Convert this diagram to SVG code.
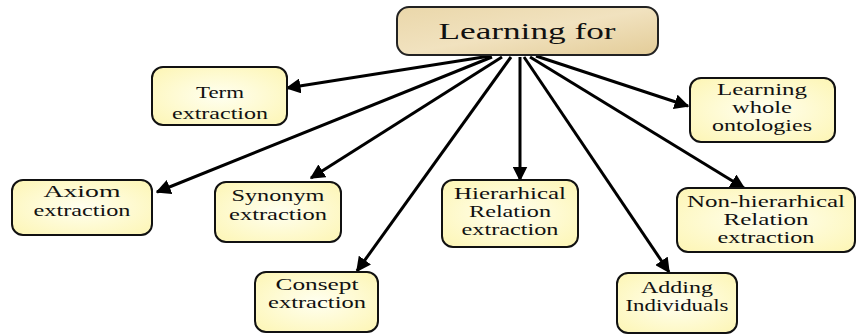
<svg xmlns="http://www.w3.org/2000/svg" width="858" height="336" viewBox="0 0 858 336">
<defs>
<radialGradient id="yel" cx="50%" cy="50%" r="65%">
<stop offset="0" stop-color="#fffff0"/>
<stop offset="1" stop-color="#fdf6b8"/>
</radialGradient>
<linearGradient id="tan" x1="0" y1="0" x2="1" y2="1">
<stop offset="0" stop-color="#ead7aa"/>
<stop offset="0.5" stop-color="#f1e2bf"/>
<stop offset="1" stop-color="#e3cc98"/>
</linearGradient>
<marker id="ah" viewBox="0 0 10 10" refX="9" refY="5" markerWidth="5" markerHeight="5" orient="auto" markerUnits="strokeWidth">
<path d="M0,0 L10,5 L0,10 z" fill="#000"/>
</marker>
<style>
.box{fill:url(#yel);stroke:#111;stroke-width:2}
.root{fill:url(#tan);stroke:#222;stroke-width:2}
text{font-family:"Liberation Serif","Times New Roman",serif;fill:#111;text-anchor:middle;font-size:17px}
.rt{font-size:24px}
.c line{stroke:#000;stroke-width:3;marker-end:url(#ah)}
</style>
</defs>
<g class="c" id="connectors">
<line x1="490" y1="56" x2="287" y2="88"/>
<line x1="492" y1="57" x2="157" y2="192"/>
<line x1="502" y1="57" x2="311" y2="178"/>
<line x1="511" y1="57" x2="357" y2="271"/>
<line x1="520" y1="57" x2="520" y2="180"/>
<line x1="524" y1="57" x2="669" y2="272"/>
<line x1="530" y1="57" x2="744" y2="188"/>
<line x1="536" y1="56" x2="688" y2="106"/>
</g>
<g id="root">
<rect class="root" x="397" y="7" width="261" height="48" rx="12"/>
<text class="rt" x="527" y="39" textLength="177" lengthAdjust="spacingAndGlyphs">Learning for</text>
</g>
<g id="term">
<rect class="box" x="152" y="67" width="135" height="58" rx="11"/>
<text x="220" y="98" textLength="48" lengthAdjust="spacingAndGlyphs">Term</text>
<text x="220" y="119" textLength="96" lengthAdjust="spacingAndGlyphs">extraction</text>
</g>
<g id="axiom">
<rect class="box" x="12" y="180" width="140" height="55" rx="11"/>
<text x="82" y="197" textLength="77" lengthAdjust="spacingAndGlyphs">Axiom</text>
<text x="82" y="216" textLength="97" lengthAdjust="spacingAndGlyphs">extraction</text>
</g>
<g id="synonym">
<rect class="box" x="215" y="182" width="126" height="60" rx="11"/>
<text x="278" y="201" textLength="93" lengthAdjust="spacingAndGlyphs">Synonym</text>
<text x="278" y="220" textLength="98" lengthAdjust="spacingAndGlyphs">extraction</text>
</g>
<g id="hier">
<rect class="box" x="442" y="180" width="136" height="67" rx="11"/>
<text x="510" y="199" textLength="112" lengthAdjust="spacingAndGlyphs">Hierarhical</text>
<text x="510" y="217" textLength="82" lengthAdjust="spacingAndGlyphs">Relation</text>
<text x="510" y="235" textLength="97" lengthAdjust="spacingAndGlyphs">extraction</text>
</g>
<g id="whole">
<rect class="box" x="690" y="78" width="145" height="64" rx="11"/>
<text x="762" y="95" textLength="90" lengthAdjust="spacingAndGlyphs">Learning</text>
<text x="762" y="113" textLength="60" lengthAdjust="spacingAndGlyphs">whole</text>
<text x="762" y="131" textLength="100" lengthAdjust="spacingAndGlyphs">ontologies</text>
</g>
<g id="nonhier">
<rect class="box" x="677" y="188" width="178" height="64" rx="11"/>
<text x="766" y="207" textLength="158" lengthAdjust="spacingAndGlyphs">Non-hierarhical</text>
<text x="766" y="225" textLength="85" lengthAdjust="spacingAndGlyphs">Relation</text>
<text x="766" y="243" textLength="97" lengthAdjust="spacingAndGlyphs">extraction</text>
</g>
<g id="consept">
<rect class="box" x="255" y="272" width="123" height="60" rx="11"/>
<text x="317" y="290" textLength="83" lengthAdjust="spacingAndGlyphs">Consept</text>
<text x="317" y="308" textLength="98" lengthAdjust="spacingAndGlyphs">extraction</text>
</g>
<g id="adding">
<rect class="box" x="617" y="273" width="120" height="60" rx="11"/>
<text x="677" y="293" textLength="72" lengthAdjust="spacingAndGlyphs">Adding</text>
<text x="677" y="311" textLength="103" lengthAdjust="spacingAndGlyphs">Individuals</text>
</g>
</svg>
